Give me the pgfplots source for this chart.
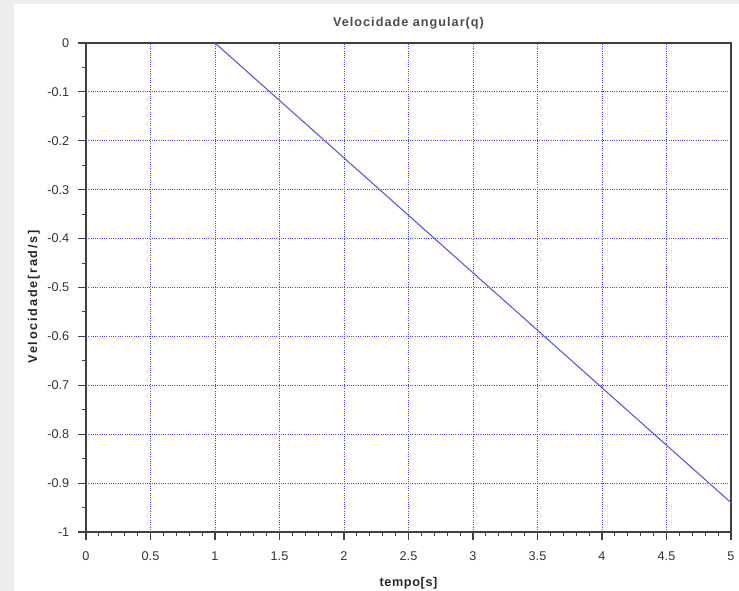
\documentclass[border=0pt]{standalone}
\usepackage{pgfplots}
\pgfplotsset{compat=1.18}
\usepackage{fontspec}
\setmainfont{Liberation Sans}
\definecolor{bgray}{RGB}{238,238,238}
\definecolor{gridblue}{RGB}{70,70,245}
\definecolor{lineblue}{RGB}{85,85,235}
\begin{document}
\begin{tikzpicture}
% outer window and white figure area (1px = 0.75pt)
\fill[bgray] (0pt,0pt) rectangle (554.25pt,443.25pt);
\fill[white] (10.5pt,0pt) rectangle (554.25pt,440.25pt);
\begin{axis}[
  scale only axis,
  width=483.75pt, height=366.75pt,
  at={(64.5pt,44.25pt)}, anchor=south west,
  xmin=0, xmax=5, ymin=-1, ymax=0,
  xtick={0,0.5,1,1.5,2,2.5,3,3.5,4,4.5,5},
  xticklabels={0,0.5,1,1.5,2,2.5,3,3.5,4,4.5,5},
  ytick={-1,-0.9,-0.8,-0.7,-0.6,-0.5,-0.4,-0.3,-0.2,-0.1,0},
  yticklabels={-1,-0.9,-0.8,-0.7,-0.6,-0.5,-0.4,-0.3,-0.2,-0.1,0},
  minor x tick num=4, minor y tick num=1,
  xtick pos=bottom, ytick pos=left,
  tick align=outside,
  major tick length=6pt, minor tick length=3pt,
  every tick/.style={black!75, line width=0.8pt},
  axis line style={black!75, line width=0.9pt},
  grid=major,
  major grid style={gridblue, line width=0.7pt, densely dotted},
  tick label style={font=\fontsize{9.5}{11}\selectfont, text=black!80},
  xticklabel style={yshift=-5pt},
  yticklabel style={xshift=-3pt},
  title={\addfontfeature{LetterSpace=8}\bfseries Velocidade angular(q)},
  title style={font=\fontsize{9.5}{11}\selectfont, text=black!70, yshift=1pt},
  xlabel={\addfontfeature{LetterSpace=5}\bfseries tempo[s]},
  ylabel={\addfontfeature{LetterSpace=14}\bfseries Velocidade[rad/s]},
  label style={font=\fontsize{9.5}{11}\selectfont, text=black!85},
  xlabel style={yshift=-5.5pt},
  ylabel style={yshift=-1pt, xshift=-7pt},
]
\addplot[lineblue, line width=0.8pt, mark=none] coordinates {(1,0)(5,-0.94)};
\end{axis}
\pgfresetboundingbox
\useasboundingbox (0pt,0pt) rectangle (554.25pt,443.25pt);
\end{tikzpicture}
\end{document}
